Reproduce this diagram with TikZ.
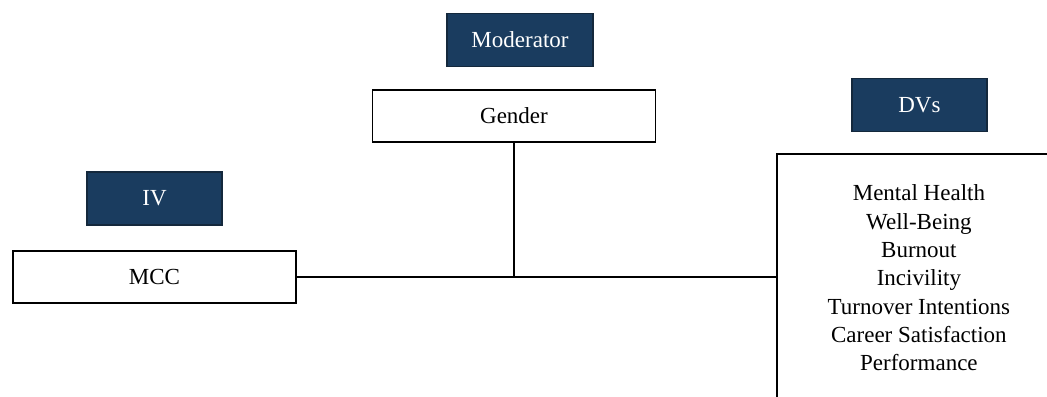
\documentclass[tikz,border=0pt]{standalone}
\usepackage{fontspec}
\setmainfont{Liberation Serif}
\usepackage{xcolor}
\usepackage{tikz}
\usetikzlibrary{positioning}
\definecolor{labelblue}{RGB}{26,60,95}
\definecolor{labeledge}{RGB}{20,40,60}

\begin{document}
\begin{tikzpicture}[
    x=0.5pt, y=-0.5pt,
    every node/.style={font=\fontsize{11.5}{14.15}\selectfont},
    varbox/.style={draw, line width=0.9pt, minimum width=141.5pt, minimum height=26pt, inner sep=0pt},
    tag/.style={draw=labeledge, line width=0.6pt, fill=labelblue, text=white, minimum width=67.5pt, minimum height=26.5pt, inner sep=0pt}
]
    % Canvas
    \useasboundingbox (0,0) rectangle (1047,396);
    \clip (0,0) rectangle (1047,396);

    % Variables
    \node[varbox] (mcc) at (154.5,277) {MCC};
    \node[varbox] (gender) at (514,116) {Gender};
    \node[draw, line width=0.9pt, anchor=north west, minimum width=142pt, minimum height=124pt, align=center, inner sep=0pt] (dvs) at (776,153) {Mental Health\\Well-Being\\Burnout\\Incivility\\Turnover Intentions\\Career Satisfaction\\Performance};

    % Labels above
    \node[tag, above=12.3pt of mcc] (iv) {IV};
    \node[tag, minimum width=73pt, above=11pt of gender, xshift=3pt] (moderator) {Moderator};
    \node[tag, above=10.5pt of dvs, xshift=0.25pt] (dvlabel) {DVs};

    % Paths
    \coordinate (junction) at (gender.south |- mcc.east);
    \draw[line width=1pt] (mcc.east) -- (dvs.west |- mcc.east);
    \draw[line width=1pt] (gender.south) -- (junction);
\end{tikzpicture}
\end{document}
